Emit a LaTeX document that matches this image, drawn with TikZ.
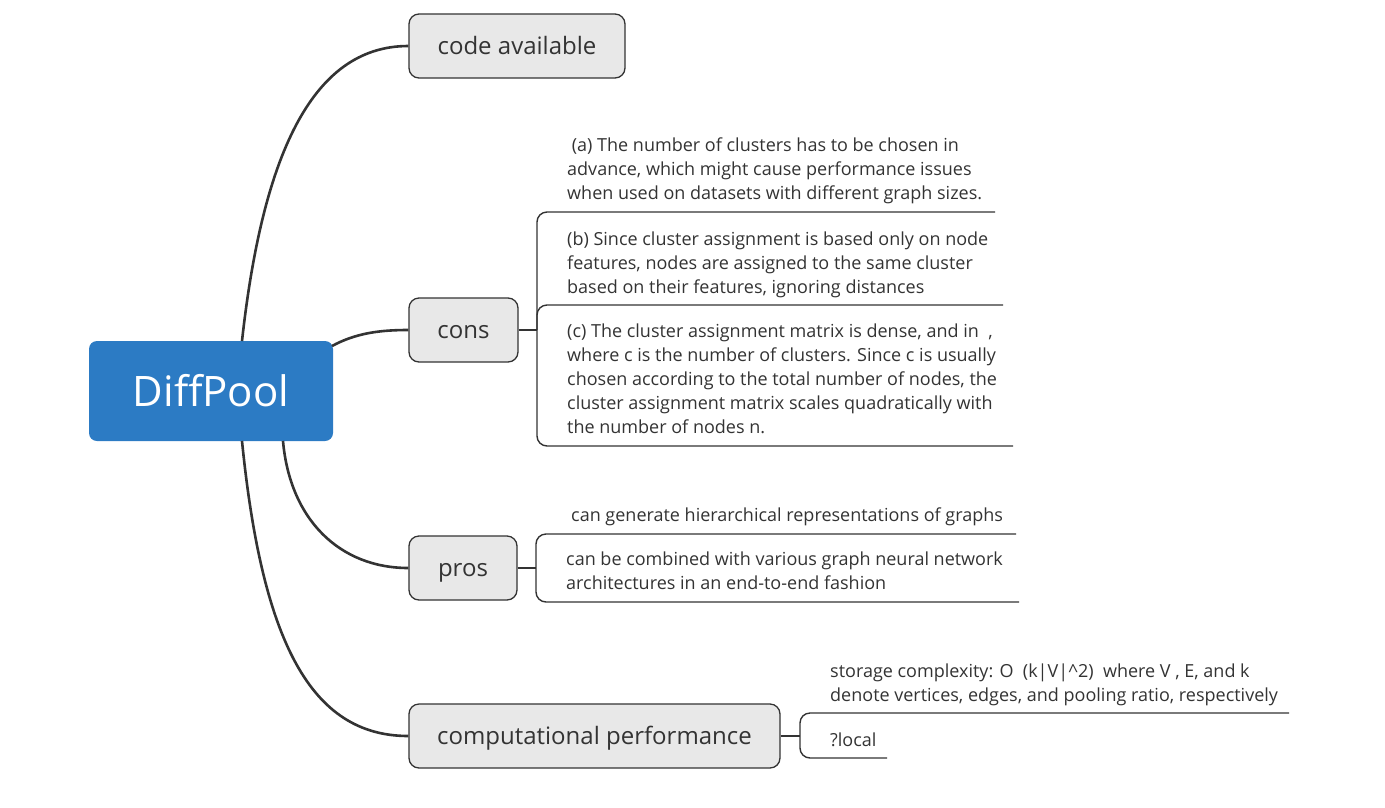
\documentclass[tikz,border=0pt]{standalone}
\usepackage{fontspec}
\setmainfont{Open Sans}
\definecolor{rootblue}{HTML}{2C7BC4}
\definecolor{topicgray}{HTML}{E8E8E8}
\definecolor{ink}{HTML}{333333}
\newcommand{\mylines}[1]{\begin{tabular}[t]{@{}l@{}}#1\end{tabular}}
\tikzset{
  rootbox/.style={rectangle, rounded corners=8pt, fill=rootblue, text=white, minimum width=244pt, minimum height=100pt, inner sep=0pt, font=\fontsize{42}{50}\selectfont},
  topicbox/.style={rectangle, rounded corners=10pt, fill=topicgray, draw=ink, line width=1.3pt, text=ink, minimum height=64pt, inner sep=0pt, text height=20pt, text depth=3pt, font=\fontsize{24}{29}\selectfont},
  subtext/.style={anchor=base west, inner sep=0pt, text=ink, font=\fontsize{18}{24}\selectfont},
  branch/.style={draw=ink, line width=2.6pt},
  bracket/.style={draw=ink, line width=1.4pt, rounded corners=10pt},
  joiner/.style={draw=ink, line width=1.4pt},
}
\begin{document}
\begin{tikzpicture}[x=1pt,y=-1pt]
\useasboundingbox (0,0) rectangle (1385,807);
% topics
\node[rootbox] (root) at (211,391) {DiffPool};
\node[topicbox, minimum width=216pt] (code) at (517,46) {code available};
\node[topicbox, minimum width=109pt] (cons) at (463.5,330) {cons};
\node[topicbox, minimum width=108pt] (pros) at (463,568) {pros};
\node[topicbox, minimum width=371pt] (comp) at (594.5,736) {computational performance};
% main branches
\coordinate (r1) at (242,341);
\coordinate (r2) at (332,346);
\coordinate (r3) at (283,441);
\coordinate (r4) at (242,441);
\draw[branch] (r1) .. controls (262,160) and (310,46) .. (code.west);
\draw[branch] (r2) .. controls (356,333) and (380,330) .. (cons.west);
\draw[branch] (r3) .. controls (290,520) and (340,568) .. (pros.west);
\draw[branch] (r4) .. controls (262,640) and (310,736) .. (comp.west);
% cons subtopics
\node[subtext] (ca) at (567,151) {\mylines{\ (a) The number of clusters has to be chosen in\\ advance, which might cause performance issues\\ when used on datasets with different graph sizes.}};
\node[subtext] (cb) at (567,245) {\mylines{(b) Since cluster assignment is based only on node\\ features, nodes are assigned to the same cluster\\ based on their features, ignoring distances}};
\node[subtext] (cc) at (567,337) {\mylines{(c) The cluster assignment matrix is dense, and in\ \ ,\\ where c is the number of clusters. Since c is usually\\ chosen according to the total number of nodes, the\\ cluster assignment matrix scales quadratically with\\ the number of nodes n.}};
\coordinate (consj) at (537,330);
\draw[bracket] (995,212) -- (537,212) -- (537,446) -- (1013,446);
\draw[bracket] (1003,305) -- (537,305) -- (consj);
\draw[joiner] (cons.east) -- (consj);
% pros subtopics
\node[subtext] (pa) at (571,521) {can generate hierarchical representations of graphs};
\node[subtext] (pb) at (566,565) {\mylines{can be combined with various graph neural network\\ architectures in an end-to-end fashion}};
\coordinate (prosj) at (536,568);
\draw[bracket] (1016,534) -- (536,534) -- (536,602) -- (1019,602);
\draw[joiner] (pros.east) -- (prosj);
% computational performance subtopics
\node[subtext] (sa) at (830,677) {\mylines{storage complexity: O\ \ (k|V|\^{}2)\ \ where V , E, and k\\ denote vertices, edges, and pooling ratio, respectively}};
\node[subtext] (sb) at (830,746) {?local};
\coordinate (compj) at (800,736);
\draw[bracket] (1289,713) -- (800,713) -- (800,758) -- (887,758);
\draw[joiner] (comp.east) -- (compj);
\end{tikzpicture}
\end{document}
